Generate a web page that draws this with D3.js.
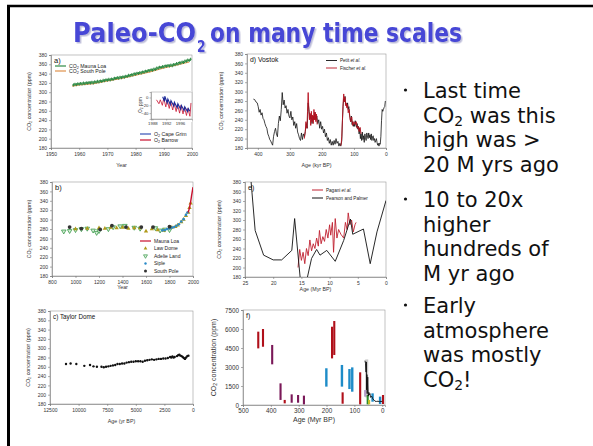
<!DOCTYPE html>
<html>
<head>
<meta charset="utf-8">
<script src="https://cdn.jsdelivr.net/npm/d3@7"></script>
<style>
  body { margin: 0; background: #fff; }
  text { font-family: "Liberation Sans", Arial, sans-serif; }
  .big { font-family: "Comic Sans MS", "DejaVu Sans", sans-serif; }
</style>
</head>
<body>
<script>
// ---- data ----
// a) Mauna Loa / South Pole, O2 inset
var mloYears = [1958,1959,1960,1961,1962,1963,1964,1965,1966,1967,1968,1969,1970,1971,1972,1973,1974,1975,1976,1977,1978,1979,1980,1981,1982,1983,1984,1985,1986,1987,1988,1989,1990,1991,1992,1993,1994,1995,1996,1997,1998,1999];
var mloCO2 = [315.3,316,316.9,317.6,318.4,319,319.6,320,321.4,322.2,323,324.6,325.7,326.3,327.5,329.7,330.2,331.1,332,333.8,335.4,336.8,338.7,340,341.1,342.8,344.4,345.9,347.2,348.9,351.5,352.9,354.2,355.6,356.4,357.1,358.9,360.9,362.6,363.8,366.6,368.3];
var spoYears = [1957.5,1960,1965,1970,1975,1980,1985,1990,1995,1999];
var spoCO2 = [313,315.5,318.5,324,329.5,336.5,343.5,352,359,365];
var o2Grim = [[1991.0,2],[1991.5,-10],[1991.6,3],[1992.3,-14],[1992.5,-4],[1993.2,-18],[1993.4,-8],[1994.2,-22],[1994.4,-12],[1995.2,-26],[1995.4,-16],[1996.2,-30],[1996.4,-20],[1997.2,-33],[1997.4,-24],[1998.2,-36],[1998.4,-28],[1998.9,-35]];
var o2Barrow = [[1989.2,-6],[1989.9,-16],[1990.3,-6],[1990.9,-20],[1991.3,-2],[1991.9,-24],[1992.3,-6],[1992.9,-28],[1993.3,-10],[1993.9,-32],[1994.3,-14],[1994.9,-36],[1995.3,-18],[1995.9,-40],[1996.3,-20],[1996.9,-42],[1997.3,-24],[1997.9,-46],[1998.3,-28],[1998.9,-48],[1999.2,-14]];

// b) last millennium
var lawDome = [[1000,280],[1100,281],[1200,282],[1250,281],[1300,283],[1350,282],[1400,283],[1450,281],[1500,282],[1550,282],[1600,275],[1650,280],[1700,278],[1750,277],[1800,282],[1820,283],[1850,285],[1870,288],[1900,295],[1920,300],[1940,308],[1960,315],[1970,325],[1980,335]];
var adelie = [[900,275],[950,276],[1000,278],[1050,280],[1100,281],[1150,277],[1180,272],[1200,276],[1280,280],[1320,284],[1380,286],[1420,287],[1500,283],[1550,281],[1680,282],[1720,277],[1760,279],[1800,278]];
var siple = [[1740,277],[1760,278],[1780,280],[1800,281],[1820,283],[1840,284],[1860,287],[1880,290],[1900,296],[1920,301],[1940,310],[1953,315]];
var southPole = [[950,284],[1050,281],[1210,279],[1310,287],[1430,284],[1560,284],[1660,284],[1800,285]];
var maunaLoa = [[1958,315],[1970,325],[1980,338],[1990,354],[2000,369]];

// c) Taylor Dome
var taylor = [[11100,266],[10700,267],[10200,266],[9500,262],[9000,264],[8700,261],[8400,260],[8000,260],[7800,259],[7600,260],[7400,261],[7200,262],[7000,263],[6800,264],[6600,266],[6400,266],[6200,267],[6000,267],[5800,269],[5600,270],[5400,271],[5200,271],[5000,272],[4800,272],[4600,272],[4400,271],[4200,273],[4000,274],[3800,275],[3600,276],[3400,275],[3200,276],[3000,277],[2800,277],[2600,278],[2400,278],[2200,279],[2000,281],[1900,280],[1800,282],[1700,280],[1600,281],[1400,283],[1300,285],[1200,286],[1100,284],[1000,283],[900,281],[800,279],[700,277],[600,280],[500,283],[400,284]];

// d) Vostok
var petit = [[414,284],[410,283],[406,278],[402,276],[399,268],[396,256],[393,262],[390,250],[387,255],[384,243],[381,240],[378,232],[375,226],[372,222],[369,210],[366,205],[363,198],[360,195],[357,190],[354,186],[351,205],[348,215],[345,222],[342,210],[339,204],[336,232],[333,248],[330,238],[327,262],[324,298],[321,272],[318,282],[315,265],[312,270],[309,254],[306,262],[303,248],[300,244],[297,258],[294,240],[291,246],[288,228],[285,236],[282,222],[279,232],[276,214],[273,208],[270,200],[267,196],[264,212],[261,198],[258,210],[255,204],[252,215],[249,232],[246,222],[243,276],[240,258],[237,242],[234,252],[231,232],[228,248],[225,240],[222,256],[219,240],[216,248],[213,232],[210,240],[207,222],[204,236],[201,220],[198,226],[195,212],[192,220],[189,204],[186,212],[183,196],[180,202],[177,190],[174,198],[171,186],[168,194],[165,186],[162,196],[159,188],[156,200],[153,190],[150,194],[147,184],[144,190],[141,184],[138,196],[136,238],[134,268],[132,285],[130,280],[128,290],[126,274],[124,272],[122,268],[120,276],[118,262],[116,268],[114,250],[112,244],[110,236],[108,248],[106,230],[104,236],[102,226],[100,232],[98,226],[96,238],[94,230],[92,224],[90,232],[88,220],[86,226],[84,210],[82,222],[80,200],[78,210],[76,196],[74,214],[72,198],[70,206],[68,192],[66,210],[64,202],[62,196],[60,212],[58,206],[56,200],[54,212],[52,202],[50,208],[48,198],[46,210],[44,196],[42,204],[40,206],[38,196],[36,200],[34,192],[32,196],[30,200],[28,192],[26,186],[24,190],[22,184],[20,190],[18,188],[16,205],[14,238],[12,262],[10,258],[8,262],[6,266],[4,268],[2,280]];
var fischerA = [[255,200],[252,215],[250,236],[247,222],[245,258],[243,298],[241,262],[239,240],[237,254],[235,228],[233,258],[231,236],[229,250],[227,232],[225,262],[223,240],[221,256],[219,236],[217,252],[215,230]];
var fischerB = [[142,185],[140,188],[138,205],[136,240],[134,275],[132,295],[130,278],[128,288],[126,270],[124,276],[122,265],[120,272],[118,255],[115,262],[112,240],[110,236],[107,246],[104,228],[100,236],[96,230],[93,236],[90,222],[87,226],[84,215],[81,224],[78,210]];

// e) Miocene
var pearson = [[24.2,420],[23.2,278],[21.7,226],[20.0,216],[18.5,216],[16.7,236],[16.2,303],[15.2,176],[14.7,160],[14.0,176],[13.2,219],[12.3,238],[11.7,226],[10.5,236],[9.0,213],[7.5,257],[6.3,302],[5.9,270],[4.0,281],[2.8,208],[1.6,275],[0,341]];
var pagani = [[15.6,200],[15.3,238],[15.0,215],[14.7,232],[14.4,208],[14.1,240],[13.8,225],[13.5,258],[13.2,235],[12.9,250],[12.6,240],[12.3,262],[12.0,245],[11.8,278],[11.5,250],[11.2,265],[10.9,255],[10.6,280],[10.3,262],[10.0,290],[9.8,268],[9.5,295],[9.3,232],[9.0,303],[8.7,262],[8.4,280],[8.0,270],[7.5,262],[7.2,295],[6.9,280],[6.7,315],[6.4,290],[6.1,300],[5.8,275],[5.5,290],[5.3,295]];

// f) Phanerozoic proxies
var proxyAge = [445,428,395,365,350,325,302,281,201,180,172,145,142,118,108,79,61,52,47,35,8,-3];
var proxyLo  = [4470,4600,3210,400,130,180,180,50,1450,3680,3950,1450,100,1260,1050,50,660,50,50,260,80,80];
var proxyHi  = [5790,6000,4740,1710,400,840,790,740,2900,6180,6630,3160,1000,2840,2970,2580,1180,790,400,920,660,790];
var proxyKind = ["paleosol","paleosol","stomata","stomata","paleosol","stomata","stomata","stomata","phyto","paleosol","paleosol","phyto","paleosol","phyto","phyto","paleosol","liverwort","boron","other","phyto","phyto","paleosol"];
var cenozoic = [[62,3500],[60,3300],[58,2600],[57,3400],[56,1200],[55,2400],[54,900],[52,2200],[50,700],[48,1000],[46,800],[44,900],[42,600],[38,700],[34,500],[30,400],[26,300],[20,280],[15,300],[10,260],[5,280],[0,280]];

var co2Ticks = [180,200,220,240,260,280,300,320,340,360,380];

var bullets = [
  ["Last time", "CO|2| was this", "high was >", "20 M yrs ago"],
  ["10 to 20x", "higher", "hundreds of", "M yr ago"],
  ["Early", "atmosphere", "was mostly", "CO|2|!"]
];

// ---- drawing ----
var W = 593, H = 446;
var svg = d3.select("body").append("svg").attr("width", W).attr("height", H);
svg.append("rect").attr("width", W).attr("height", H).attr("fill", "#fff");

// soft shadow for the title
var shadow = svg.append("defs").append("filter").attr("id", "shadow")
  .attr("x", "-5%").attr("y", "-20%").attr("width", "110%").attr("height", "150%");
shadow.append("feDropShadow").attr("dx", 1.5).attr("dy", 1.5).attr("stdDeviation", 0.6)
  .attr("flood-color", "#9090c0").attr("flood-opacity", 0.6);

// slide frame
svg.append("line").attr("x1", 8.5).attr("x2", 8.5).attr("y1", 5).attr("y2", H)
  .attr("stroke", "#000").attr("stroke-width", 3);
svg.append("line").attr("x1", 7).attr("x2", W).attr("y1", 6).attr("y2", 6)
  .attr("stroke", "#000").attr("stroke-width", 2.5);

// writes "CO|2| text" with subscripts
function subText(sel, str, shift, size) {
  str.split("|").forEach(function (s, i) {
    if (!s) return;
    var t = sel.append("tspan").text(s);
    if (i % 2 == 1) t.attr("dy", shift).attr("font-size", size || "72%");
    else if (i > 0) t.attr("dy", -shift);
  });
}

var clipN = 0;
function panel(p) {
  var x = d3.scaleLinear().domain(p.xd).range([p.x0, p.x1]);
  var y = d3.scaleLinear().domain(p.yd).range([p.y1, p.y0]);
  var fs = p.fs || 5;
  var g = svg.append("g");
  g.append("rect").attr("x", p.x0).attr("y", p.y0)
    .attr("width", p.x1 - p.x0).attr("height", p.y1 - p.y0)
    .attr("fill", "none").attr("stroke", "#999").attr("stroke-width", 0.6);

  var ax = g.append("g").attr("transform", "translate(0," + p.y1 + ")")
    .call(d3.axisBottom(x).tickValues(p.xt).tickSize(2).tickPadding(2).tickFormat(d3.format("d")));
  var ay = g.append("g").attr("transform", "translate(" + p.x0 + ",0)")
    .call(d3.axisLeft(y).tickValues(p.yt).tickSize(2).tickPadding(2).tickFormat(d3.format("d")));
  [ax, ay].forEach(function (a) {
    a.select(".domain").attr("stroke", "#777").attr("stroke-width", 0.6);
    a.selectAll(".tick line").attr("stroke", "#777").attr("stroke-width", 0.6);
    a.selectAll("text").attr("font-size", fs).attr("fill", "#333")
      .attr("font-family", "Liberation Sans, Arial, sans-serif");
  });

  g.append("text").attr("x", (p.x0 + p.x1) / 2).attr("y", p.y1 + p.xlOff)
    .attr("text-anchor", "middle").attr("font-size", p.lfs || fs + 0.3).attr("fill", "#333")
    .text(p.xl);
  var yl = g.append("text").attr("transform", "translate(" + p.ylx + "," + (p.y0 + p.y1) / 2 + ") rotate(-90)")
    .attr("text-anchor", "middle").attr("font-size", p.lfs || fs + 0.3).attr("fill", "#333");
  subText(yl, "CO|2| concentration (ppm)", 1);

  if (p.title) g.append("text").attr("x", p.x0 + 3).attr("y", p.y0 + 8)
    .attr("font-size", p.tfs || 7).attr("fill", "#111").text(p.title);

  var id = "clip" + (clipN++);
  svg.append("clipPath").attr("id", id).append("rect")
    .attr("x", p.x0).attr("y", p.y0).attr("width", p.x1 - p.x0).attr("height", p.y1 - p.y0);
  var plot = g.append("g").attr("clip-path", "url(#" + id + ")");
  return { g: g, plot: plot, x: x, y: y };
}

function legendRow(g, x, y, str, fs, drawKey) {
  drawKey(g, x, y);
  var t = g.append("text").attr("x", x + 14).attr("y", y + fs * 0.35)
    .attr("font-size", fs).attr("fill", "#222");
  subText(t, str, 0.8);
  return t;
}
function keyLine(color, w) {
  return function (g, x, y) {
    g.append("line").attr("x1", x).attr("x2", x + 11).attr("y1", y).attr("y2", y)
      .attr("stroke", color).attr("stroke-width", w || 1);
  };
}
// legend label with an italic "et al."
function italicLegend(g, x, y, name, color, w) {
  keyLine(color, w)(g, x, y);
  var t = g.append("text").attr("x", x + 14).attr("y", y + 1.6).attr("font-size", 4.6).attr("fill", "#222");
  t.append("tspan").text(name + " ");
  t.append("tspan").attr("font-style", "italic").text("et al.");
}

// ---- panel a ----
var pa = panel({ x0: 51, x1: 192, y0: 55, y1: 148, xd: [1950, 2000], yd: [180, 380],
  xt: [1950,1960,1970,1980,1990,2000], yt: co2Ticks, xl: "Year", xlOff: 19, ylx: 31, title: "a)", tfs: 7.5 });
var lineA = d3.line().x(function (d) { return pa.x(d[0]); }).y(function (d) { return pa.y(d[1]); });
pa.plot.append("path").datum(spoYears.map(function (v, i) { return [v, spoCO2[i]]; }))
  .attr("d", lineA).attr("fill", "none").attr("stroke", "#e0904a").attr("stroke-width", 1.1);
pa.plot.selectAll(".mlo").data(mloYears).enter().append("path")
  .attr("transform", function (d, i) { return "translate(" + pa.x(d) + "," + pa.y(mloCO2[i]) + ")"; })
  .attr("d", d3.symbol(d3.symbolCross, 5)).attr("fill", "#2e8a44");
pa.plot.selectAll(".mlo2").data(mloYears).enter().append("path")
  .attr("transform", function (d, i) { return "translate(" + pa.x(d + 0.5) + "," + pa.y((mloCO2[i] + (mloCO2[i + 1] || mloCO2[i] + 1.5)) / 2 + 2) + ")"; })
  .attr("d", d3.symbol(d3.symbolCross, 4)).attr("fill", "#2e8a44");
legendRow(pa.g, 55, 66, "CO|2| Mauna Loa", 5.2, keyLine("#2e8a44", 1.2));
legendRow(pa.g, 55, 71, "CO|2| South Pole", 5.2, keyLine("#e0904a", 1.2));

// inset
var inset = pa.g.append("g");
inset.append("rect").attr("x", 139).attr("y", 91).attr("width", 53).attr("height", 31).attr("fill", "#fff");
var ix = d3.scaleLinear().domain([1987.6, 1999.5]).range([151, 192]);
var iy = d3.scaleLinear().domain([-55, 14]).range([119, 92]);
inset.append("rect").attr("x", 151).attr("y", 92).attr("width", 41).attr("height", 27)
  .attr("fill", "none").attr("stroke", "#999").attr("stroke-width", 0.5);
var iax = inset.append("g").attr("transform", "translate(0,119)")
  .call(d3.axisBottom(ix).tickValues([1988, 1992, 1996]).tickSize(1.5).tickPadding(1).tickFormat(d3.format("d")));
var iay = inset.append("g").attr("transform", "translate(151,0)")
  .call(d3.axisLeft(iy).tickValues([0, -20, -40]).tickSize(1.5).tickPadding(1));
[iax, iay].forEach(function (a) {
  a.select(".domain").attr("stroke", "#777").attr("stroke-width", 0.5);
  a.selectAll(".tick line").attr("stroke", "#777").attr("stroke-width", 0.5);
  a.selectAll("text").attr("font-size", 4.3).attr("fill", "#333");
});
var iyl = inset.append("text").attr("transform", "translate(142,105) rotate(-90)")
  .attr("text-anchor", "middle").attr("font-size", 4.5).attr("fill", "#333");
subText(iyl, "O|2| ppm", 0.8);
var lineI = d3.line().x(function (d) { return ix(d[0]); }).y(function (d) { return iy(d[1]); });
inset.append("path").datum(o2Barrow).attr("d", lineI).attr("fill", "none").attr("stroke", "#c8102e").attr("stroke-width", 0.8);
inset.append("path").datum(o2Grim).attr("d", lineI).attr("fill", "none").attr("stroke", "#1a2a9a").attr("stroke-width", 1.1);
legendRow(pa.g, 140, 134, "O|2| Cape Grim", 5.2, keyLine("#6a7ec8", 1.6));
legendRow(pa.g, 140, 140, "O|2| Barrow", 5.2, keyLine("#c8102e", 1.2));

// ---- panel b ----
var pb = panel({ x0: 52, x1: 193, y0: 182, y1: 276, xd: [800, 2000], yd: [180, 380],
  xt: [800,1000,1200,1400,1600,1800,2000], yt: co2Ticks, xl: "Year", xlOff: 13, ylx: 31, title: "b)", tfs: 7.5 });
function pos(p) { return function (d) { return "translate(" + p.x(d[0]) + "," + p.y(d[1]) + ")"; }; }
pb.plot.selectAll(".ad").data(adelie).enter().append("path").attr("transform", function (d) { return pos(pb)(d) + " rotate(180)"; })
  .attr("d", d3.symbol(d3.symbolTriangle, 9)).attr("fill", "#d8eed8").attr("stroke", "#3a9a4a").attr("stroke-width", 0.8);
pb.plot.selectAll(".ld").data(lawDome).enter().append("path").attr("transform", pos(pb))
  .attr("d", d3.symbol(d3.symbolTriangle, 8)).attr("fill", "#b09a1a");
pb.plot.selectAll(".sp").data(siple).enter().append("circle").attr("transform", pos(pb))
  .attr("r", 1.3).attr("fill", "#2a8ac8");
pb.plot.selectAll(".so").data(southPole).enter().append("circle").attr("transform", pos(pb))
  .attr("r", 1.9).attr("fill", "#333");
pb.plot.append("path").datum(maunaLoa)
  .attr("d", d3.line().curve(d3.curveMonotoneX).x(function (d) { return pb.x(d[0]); }).y(function (d) { return pb.y(d[1]); }))
  .attr("fill", "none").attr("stroke", "#c8102e").attr("stroke-width", 1.4);
legendRow(pb.g, 140, 241, "Mauna Loa", 5, keyLine("#c8102e", 1.2));
legendRow(pb.g, 140, 248.5, "Law Dome", 5, function (g, x, y) {
  g.append("path").attr("transform", "translate(" + (x + 5.5) + "," + y + ")").attr("d", d3.symbol(d3.symbolTriangle, 6)).attr("fill", "#b09a1a");
});
legendRow(pb.g, 140, 256, "Adelie Land", 5, function (g, x, y) {
  g.append("path").attr("transform", "translate(" + (x + 5.5) + "," + y + ") rotate(180)").attr("d", d3.symbol(d3.symbolTriangle, 7))
    .attr("fill", "#d8eed8").attr("stroke", "#3a9a4a").attr("stroke-width", 0.7);
});
legendRow(pb.g, 140, 263.5, "Siple", 5, function (g, x, y) {
  g.append("circle").attr("cx", x + 5.5).attr("cy", y).attr("r", 1.2).attr("fill", "#2a8ac8");
});
legendRow(pb.g, 140, 271, "South Pole", 5, function (g, x, y) {
  g.append("circle").attr("cx", x + 5.5).attr("cy", y).attr("r", 1.5).attr("fill", "#333");
});

// ---- panel c ----
var pc = panel({ x0: 50, x1: 193, y0: 311, y1: 404, xd: [12500, 0], yd: [180, 380],
  xt: [12500,10000,7500,5000,2500,0], yt: co2Ticks, xl: "Age (yr BP)", xlOff: 19, ylx: 30, title: "c) Taylor Dome", tfs: 6.3 });
pc.plot.selectAll(".td").data(taylor).enter().append("circle").attr("transform", pos(pc))
  .attr("r", 1.2).attr("fill", "#111");

// ---- panel d ----
var pd = panel({ x0: 247, x1: 386, y0: 54, y1: 148, xd: [434, 0], yd: [180, 380],
  xt: [400,300,200,100,0], yt: co2Ticks, xl: "Age (kyr BP)", xlOff: 19, ylx: 223, title: "d) Vostok", tfs: 6.8 });
var lineD = d3.line().x(function (d) { return pd.x(d[0]); }).y(function (d) { return pd.y(d[1]); });
pd.plot.append("path").datum(petit).attr("d", lineD).attr("fill", "none").attr("stroke", "#111").attr("stroke-width", 0.8);
[fischerA, fischerB].forEach(function (s) {
  pd.plot.append("path").datum(s).attr("d", lineD).attr("fill", "none").attr("stroke", "#b8101e").attr("stroke-width", 0.9);
});
italicLegend(pd.g, 326, 60.5, "Petit", "#111", 0.9);
italicLegend(pd.g, 326, 68, "Fischer", "#b8101e", 0.9);

// ---- panel e ----
var pe = panel({ x0: 245, x1: 386, y0: 182, y1: 277, xd: [25, 0], yd: [180, 380],
  xt: [25,20,15,10,5,0], yt: co2Ticks, xl: "Age (Myr BP)", xlOff: 13.5, ylx: 221, title: "e)", tfs: 7 });
var lineE = d3.line().x(function (d) { return pe.x(d[0]); }).y(function (d) { return pe.y(d[1]); });
pe.plot.append("path").datum(pagani).attr("d", lineE).attr("fill", "none").attr("stroke", "#c02030").attr("stroke-width", 0.9);
pe.plot.append("path").datum(pearson).attr("d", lineE).attr("fill", "none").attr("stroke", "#111").attr("stroke-width", 0.9);
italicLegend(pe.g, 312, 190, "Pagani", "#c02030", 1);
legendRow(pe.g, 312, 198, "Pearson and Palmer", 4.6, keyLine("#111", 1));

// ---- panel f ----
var pf = panel({ x0: 243, x1: 385, y0: 310, y1: 405, xd: [500, -10], yd: [0, 7500],
  xt: [500,400,300,200,100,0], yt: [0,1500,3000,4500,6000,7500], xl: "Age (Myr BP)", xlOff: 17, ylx: 216,
  fs: 6.3, lfs: 7, title: "f)", tfs: 7 });
var kindColor = { paleosol: "#b0101a", stomata: "#7a1858", phyto: "#1e8cc8", liverwort: "#b49ac8", boron: "#2e8a2e", other: "#c8c020" };
pf.plot.append("rect").attr("x", pf.x(61)).attr("width", 3).attr("y", pf.y(3600)).attr("height", pf.y(600) - pf.y(3600))
  .attr("fill", "#ccc");
pf.plot.selectAll(".bar").data(proxyAge).enter().append("rect")
  .attr("x", function (d) { return pf.x(d) - 1.1; })
  .attr("width", function (d, i) { return proxyKind[i] == "phyto" ? 2.4 : 2.1; })
  .attr("y", function (d, i) { return pf.y(proxyHi[i]); })
  .attr("height", function (d, i) { return pf.y(proxyLo[i]) - pf.y(proxyHi[i]); })
  .attr("fill", function (d, i) { return kindColor[proxyKind[i]]; });
pf.plot.append("path").datum(cenozoic)
  .attr("d", d3.line().x(function (d) { return pf.x(d[0]); }).y(function (d) { return pf.y(d[1]); }))
  .attr("fill", "none").attr("stroke", "#111").attr("stroke-width", 0.9);

// ---- title ----
var title = svg.append("g").attr("fill", "#4646d6").attr("font-weight", "bold")
  .attr("filter", "url(#shadow)");
title.append("text").attr("class", "big").attr("x", 73).attr("y", 42).attr("font-size", 27)
  .attr("textLength", 123).attr("lengthAdjust", "spacingAndGlyphs").text("Paleo-CO");
title.append("text").attr("class", "big").attr("x", 197).attr("y", 52).attr("font-size", 15)
  .attr("textLength", 8.5).attr("lengthAdjust", "spacingAndGlyphs").text("2");
title.append("text").attr("class", "big").attr("x", 210).attr("y", 42).attr("font-size", 27)
  .attr("textLength", 252).attr("lengthAdjust", "spacingAndGlyphs").text("on many time scales");

// ---- bullets ----
var bulletTop = [98, 207, 313];
var lineGap = 24.5;
bullets.forEach(function (lines, bi) {
  svg.append("circle").attr("cx", 405.5).attr("cy", bulletTop[bi] - 8).attr("r", 1.6).attr("fill", "#111");
  lines.forEach(function (ln, li) {
    var t = svg.append("text").attr("class", "big").attr("x", 423).attr("y", bulletTop[bi] + li * lineGap)
      .attr("font-size", 21).attr("fill", "#111");
    subText(t, ln, 3, "66%");
  });
});
</script>
</body>
</html>
